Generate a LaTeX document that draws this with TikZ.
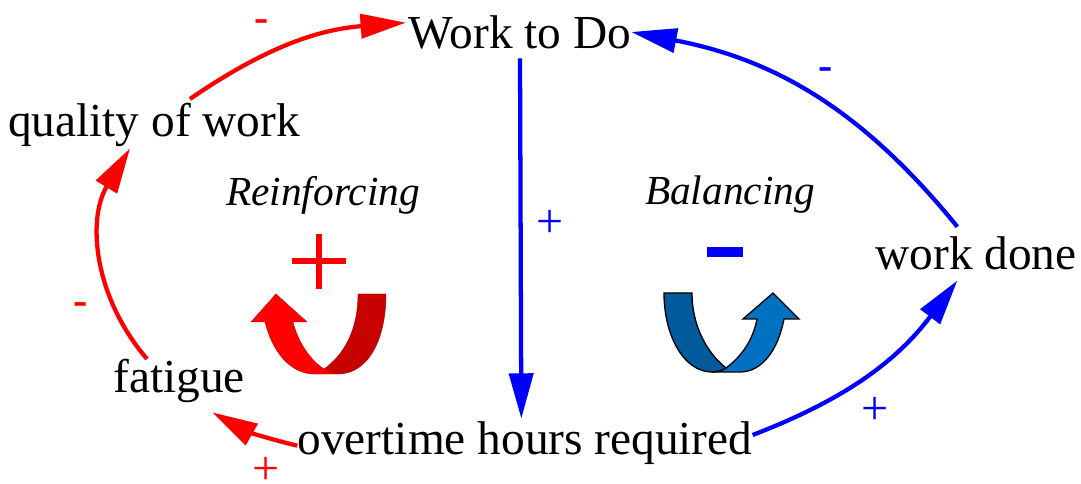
\documentclass[tikz,border=0pt]{standalone}
\usepackage{fontspec}
\setmainfont{Liberation Serif}
\usepackage{tikz}
\usetikzlibrary{arrows.meta,positioning}
\definecolor{loopred}{HTML}{FF0000}
\definecolor{loopdarkred}{HTML}{C80000}
\definecolor{loopblue}{HTML}{0070C0}
\definecolor{loopdarkblue}{HTML}{005A9C}
\definecolor{linkblue}{HTML}{0000FF}
\tikzset{
var/.style={inner sep=0pt,font=\fontsize{35.5}{40}\selectfont},
looplabel/.style={inner sep=0pt,font=\fontsize{31}{34}\selectfont\itshape},
sign/.style={inner sep=0pt,font=\fontsize{36}{38}\selectfont},
minussign/.style={inner sep=0pt,font=\fontsize{32}{36}\selectfont\bfseries},
redlink/.style={draw=loopred,line width=3.2pt,-{Triangle[length=34pt,width=18pt]}},
bluelink/.style={draw=linkblue,line width=3.2pt,-{Triangle[length=34pt,width=18pt]}}
}
\begin{document}
\begin{tikzpicture}[x=0.75pt,y=-0.75pt]
\useasboundingbox (0,0) rectangle (1081,484);
\node [var] (WTD) at (520,32) {Work to Do};
\node [var] (QW) at (154,125) {quality of work};
\node [var] (FT) at (179,381) {fatigue};
\node [var] (OT) at (525,443) {overtime hours required};
\node [var] (WD) at (976,253) {work done};
\node [looplabel] (RL) at (323,195) {Reinforcing};
\node [looplabel] (BL) at (730,195) {Balancing};
% polarity signs
\node [minussign,text=loopred] (S1) at (262,26) {-};
\node [minussign,text=loopred] (S2) at (81,309) {-};
\node [sign,text=loopred] (S3) at (266,471) {+};
\node [sign,text=linkblue] (S4) at (550,224) {+};
\node [sign,text=linkblue] (S5) at (875,411) {+};
\node [minussign,text=linkblue] (S6) at (826,74) {-};
% red loop
\draw [redlink] ([xshift=27pt,yshift=3pt]QW.north) to[bend left=15] ([xshift=-2pt,yshift=7pt]WTD.west);
\draw [redlink] ([xshift=-24pt]FT.north) to[bend left=36] ([xshift=-18pt,yshift=-1pt]QW.south);
\draw [redlink] ([yshift=-2pt]OT.west) to[bend left=8] ([xshift=25pt,yshift=-7pt]FT.south);
% blue loop
\draw [bluelink] ([yshift=-7pt]WTD.south) to ([xshift=1pt,yshift=2pt]WTD.south |- OT.north);
\draw [bluelink] ([yshift=6pt]OT.east) to[bend right=16] ([xshift=-14pt,yshift=-8pt]WD.south);
\draw [bluelink] ([xshift=-14pt,yshift=7pt]WD.north) to[bend right=20] (WTD.east);
% reinforcing symbol
\draw [loopred,line width=4.5pt] (292,261) -- (346,261) (319,234) -- (319,289);
\draw [draw=loopdarkred!80!black,line width=0.3pt,fill=loopdarkred] (358,294) -- (386,294)
.. controls (386,340) and (368,374) .. (338,374) -- (312,374)
.. controls (316,372) and (320,371) .. (324,369)
.. controls (344,355) and (358,330) .. (358,294) -- cycle;
\draw [draw=loopdarkred,line width=0.3pt,fill=loopred] (276,294) -- (307,322) -- (293,322)
.. controls (298,342) and (310,360) .. (324,369)
.. controls (330,372) and (334,374) .. (338,374) -- (312,374)
.. controls (288,372) and (272,350) .. (265,322) -- (251,322) -- cycle;
% balancing symbol
\draw [draw=none,fill=linkblue] (707,247) rectangle (743,257);
\draw [draw=black,line width=1pt,fill=loopdarkblue] (664,293) -- (692,293)
.. controls (692,325) and (706,352) .. (726,368)
.. controls (722,371) and (716,372) .. (712,372)
.. controls (684,372) and (664,336) .. (664,293) -- cycle;
\draw [draw=black,line width=1pt,fill=loopblue] (773,293) -- (799,319) -- (784,319)
.. controls (778,350) and (762,372) .. (740,372) -- (712,372)
.. controls (716,372) and (722,371) .. (726,368)
.. controls (742,356) and (753,340) .. (757,319) -- (743,319) -- cycle;
\end{tikzpicture}
\end{document}
